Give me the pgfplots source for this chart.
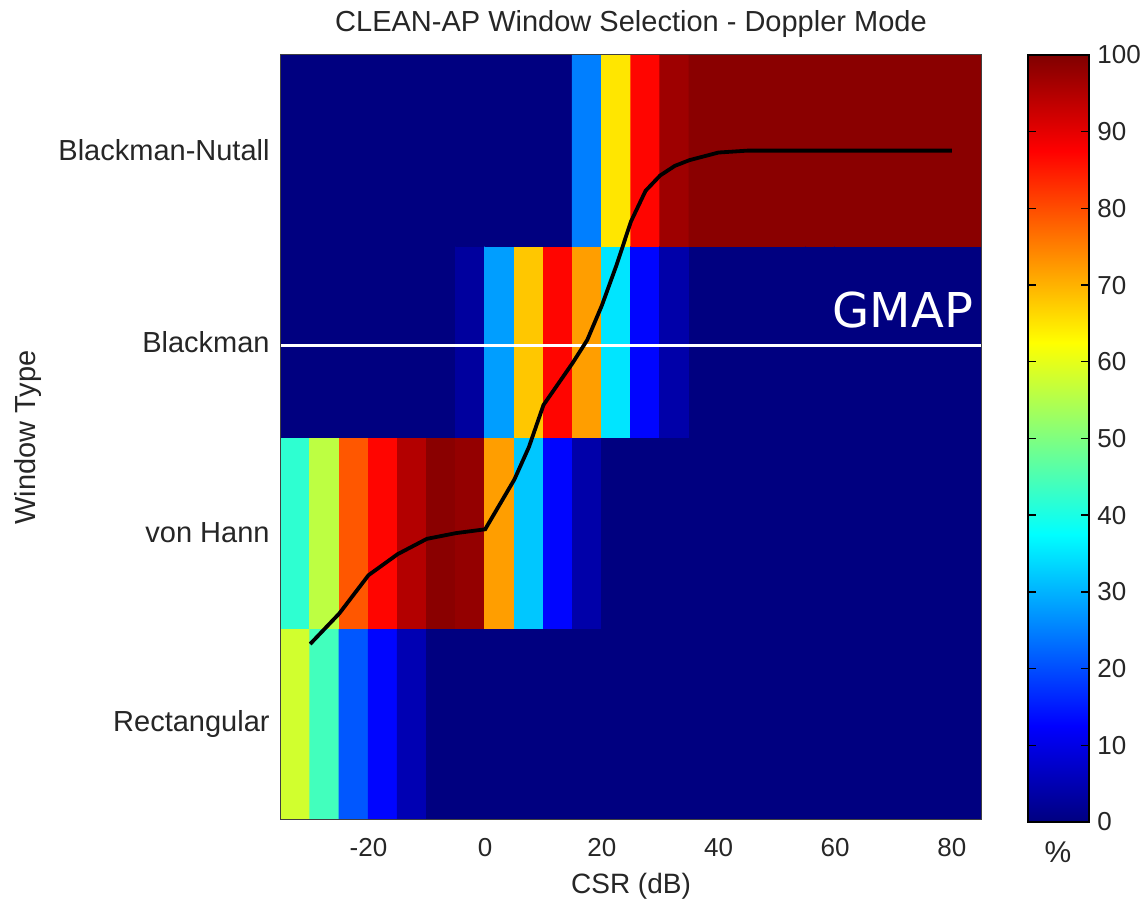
\documentclass[border=0pt]{standalone}
\usepackage{pgfplots}
\usepackage{pgfplotstable}
\pgfplotsset{compat=1.18}
\usepackage{fontspec}
\setmainfont{Liberation Sans}
\newfontfamily\gmapfont{DejaVu Sans}

% percentage of selections per CSR bin (5 dB bins), rows: 1 Rectangular, 2 von Hann, 3 Blackman, 4 Blackman-Nutall
\pgfplotstableread{
x y c
-32.5 1 58
-27.5 1 44
-22.5 1 21
-17.5 1 13
-12.5 1 5
-7.5 1 0
-2.5 1 0
2.5 1 0
7.5 1 0
12.5 1 0
17.5 1 0
22.5 1 0
27.5 1 0
32.5 1 0
37.5 1 0
42.5 1 0
47.5 1 0
52.5 1 0
57.5 1 0
62.5 1 0
67.5 1 0
72.5 1 0
77.5 1 0
82.5 1 0
-32.5 2 42
-27.5 2 56
-22.5 2 79
-17.5 2 87
-12.5 2 95
-7.5 2 99
-2.5 2 98
2.5 2 72
7.5 2 32
12.5 2 13
17.5 2 4
22.5 2 0
27.5 2 0
32.5 2 0
37.5 2 0
42.5 2 0
47.5 2 0
52.5 2 0
57.5 2 0
62.5 2 0
67.5 2 0
72.5 2 0
77.5 2 0
82.5 2 0
-32.5 3 0
-27.5 3 0
-22.5 3 0
-17.5 3 0
-12.5 3 0
-7.5 3 0
-2.5 3 3
2.5 3 28
7.5 3 68
12.5 3 87
17.5 3 72
22.5 3 35
27.5 3 13
32.5 3 4
37.5 3 0
42.5 3 0
47.5 3 0
52.5 3 0
57.5 3 0
62.5 3 0
67.5 3 0
72.5 3 0
77.5 3 0
82.5 3 0
-32.5 4 0
-27.5 4 0
-22.5 4 0
-17.5 4 0
-12.5 4 0
-7.5 4 0
-2.5 4 0
2.5 4 0
7.5 4 0
12.5 4 0
17.5 4 25
22.5 4 65
27.5 4 87
32.5 4 97
37.5 4 99
42.5 4 99
47.5 4 99
52.5 4 99
57.5 4 99
62.5 4 99
67.5 4 99
72.5 4 99
77.5 4 99
82.5 4 99
}\heatdata

\begin{document}
\begin{tikzpicture}
\begin{axis}[
  at={(140.5pt,42pt)}, anchor=south west,
  scale only axis, width=350pt, height=382.5pt,
  xmin=-35, xmax=85, ymin=0.5, ymax=4.5,
  axis on top,
  colormap/jet, point meta min=0, point meta max=100,
  axis line style={draw=black!75, line width=0.5pt},
  major tick length=0pt,
  xtick={-20,0,20,40,60,80}, xticklabels={-20,0,20,40,60,80},
  ytick={1,2,3,4}, yticklabels={Rectangular,von Hann,Blackman,Blackman-Nutall},
  xticklabel style={font=\fontsize{13}{15}\selectfont, text=black!85, inner sep=0pt, anchor=base, yshift=-18.5pt},
  yticklabel style={font=\fontsize{14.5}{17}\selectfont, text=black!85, inner sep=0pt, anchor=east, xshift=-5.5pt},
  title={CLEAN-AP Window Selection - Doppler Mode},
  title style={at={(axis description cs:0.5,1)}, anchor=base, yshift=5.5pt, inner sep=0pt, font=\fontsize{14.5}{17}\selectfont, text=black!85},
  xlabel={CSR (dB)},
  xlabel style={at={(axis description cs:0.5,0)}, anchor=base, yshift=-37pt, inner sep=0pt, font=\fontsize{14}{17}\selectfont, text=black!85},
  ylabel={Window Type},
  ylabel style={at={(axis description cs:-0.3614,0.5)}, anchor=center, inner sep=0pt, font=\fontsize{14.5}{17}\selectfont, text=black!85},
]
\addplot[matrix plot*, mesh/cols=24, point meta=explicit, shader=faceted, faceted color=mapped color, line width=0.7pt] table[x=x, y=y, meta=c] {\heatdata};
\addplot[white, line width=1.8pt] coordinates {(-35,2.98) (85,2.98)};
\addplot[black, line width=1.9pt] coordinates {
  (-30,1.42) (-25,1.58) (-20,1.78) (-15,1.89) (-10,1.97) (-5,2.0) (0,2.02)
  (5,2.28) (7.5,2.45) (10,2.67) (15,2.89) (17.5,3.01) (20,3.19) (22.5,3.40)
  (25,3.63) (27.5,3.79) (30,3.87) (32.5,3.92) (35,3.95) (40,3.99) (45,4.0) (80,4.0)
};
\node[anchor=base, text=white, inner sep=0pt, font=\gmapfont\fontsize{24}{28}\selectfont] at (axis cs:71.6,3.073) {GMAP};
\end{axis}
% colour bar
\begin{axis}[
  at={(514pt,41pt)}, anchor=south west,
  scale only axis, width=30.5pt, height=383.5pt,
  xmin=0, xmax=1, ymin=0, ymax=100,
  colormap/jet, point meta min=0, point meta max=100,
  axis on top,
  xtick=\empty,
  ytick={0,10,20,30,40,50,60,70,80,90,100},
  yticklabels={0,10,20,30,40,50,60,70,80,90,100},
  yticklabel pos=right,
  ytick pos=both,
  tick align=inside,
  major tick length=4pt,
  tick style={black, line width=0.7pt},
  axis line style={black, line width=0.7pt},
  yticklabel style={font=\fontsize{13}{15}\selectfont, text=black!85, inner sep=0pt, anchor=west, xshift=4pt},
]
\addplot[surf, shader=interp, mesh/cols=2, point meta=y] coordinates {
  (0,0) (1,0)
  (0,10) (1,10)
  (0,20) (1,20)
  (0,30) (1,30)
  (0,40) (1,40)
  (0,50) (1,50)
  (0,60) (1,60)
  (0,70) (1,70)
  (0,80) (1,80)
  (0,90) (1,90)
  (0,100) (1,100)
};
\end{axis}
\node[font=\fontsize{15}{18}\selectfont, text=black!85, inner sep=0pt] at (529pt,26pt) {\%};
\pgfresetboundingbox
\useasboundingbox (0,0) rectangle (574pt,452pt);
\end{tikzpicture}
\end{document}
